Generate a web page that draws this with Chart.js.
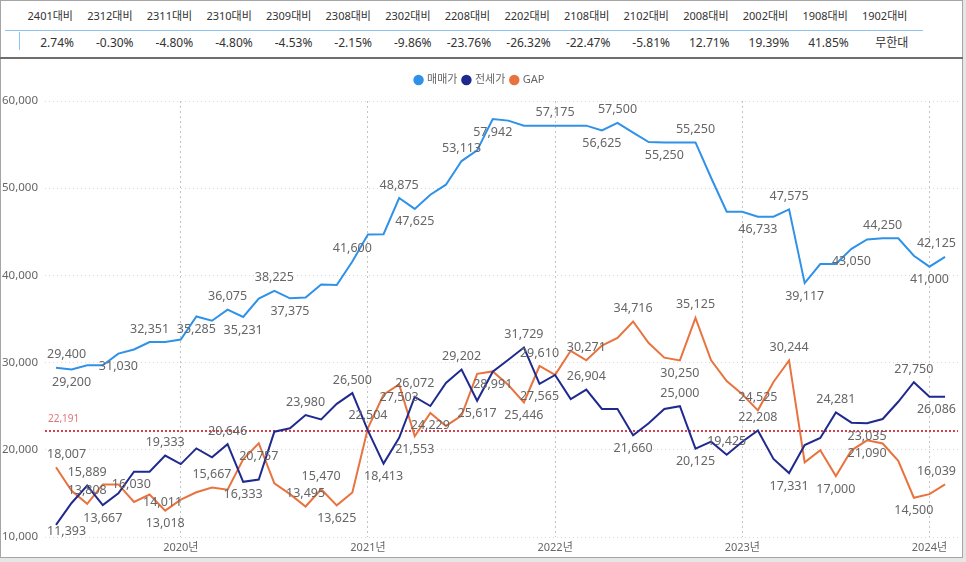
<!DOCTYPE html>
<html><head><meta charset="utf-8">
<script src="https://cdn.jsdelivr.net/npm/chart.js@4.4.1/dist/chart.umd.min.js"></script>
<style>
html,body{margin:0;padding:0;}
body{width:966px;height:562px;background:#e6e6e6;position:relative;overflow:hidden;font-family:"Noto Sans","Noto Sans CJK KR",sans-serif;}
#frame{position:absolute;left:0;top:0;width:961px;height:556px;border:1px solid #a5a5a5;background:#fff;}
#sep{position:absolute;left:0;top:57px;width:963px;height:2px;background:#6e6e6e;}
#tblLine{position:absolute;left:5px;top:30px;width:918px;height:1px;background:#8cc4ee;}
#tblTick{position:absolute;left:19px;top:32px;width:1px;height:18px;background:#8cc4ee;}
.th{position:absolute;top:8px;font-size:11px;line-height:16px;color:#333;text-align:right;width:80px;white-space:nowrap;}
.td{position:absolute;top:35px;font-size:12px;line-height:16px;color:#333;text-align:right;width:80px;white-space:nowrap;}
#c{position:absolute;left:2px;top:60px;}
</style></head><body>
<div id="frame"></div>
<div id="sep"></div>
<div id="tblLine"></div>
<div id="tblTick"></div>
<div id="tbl"></div>
<canvas id="c" width="959" height="496"></canvas>
<script>
const tableHeaders = ['2401대비','2312대비','2311대비','2310대비','2309대비','2308대비','2302대비','2208대비','2202대비','2108대비','2102대비','2008대비','2002대비','1908대비','1902대비'];
const tableValues = ['2.74%','-0.30%','-4.80%','-4.80%','-4.53%','-2.15%','-9.86%','-23.76%','-26.32%','-22.47%','-5.81%','12.71%','19.39%','41.85%','무한대'];

const months = ['2019-05','2019-06','2019-07','2019-08','2019-09','2019-10','2019-11','2019-12',
 '2020-01','2020-02','2020-03','2020-04','2020-05','2020-06','2020-07','2020-08','2020-09','2020-10','2020-11','2020-12',
 '2021-01','2021-02','2021-03','2021-04','2021-05','2021-06','2021-07','2021-08','2021-09','2021-10','2021-11','2021-12',
 '2022-01','2022-02','2022-03','2022-04','2022-05','2022-06','2022-07','2022-08','2022-09','2022-10','2022-11','2022-12',
 '2023-01','2023-02','2023-03','2023-04','2023-05','2023-06','2023-07','2023-08','2023-09','2023-10','2023-11','2023-12',
 '2024-01','2024-02'];

const salePrice = [29400, 29200, 29697, 29697, 31030, 31500, 32351, 32351, 32650, 35285,
 34800, 36075, 35231, 37350, 38225, 37375, 37475, 38950, 38900, 41600,
 44704, 44725, 48875, 47625, 49250, 50400, 53113, 54334, 57942, 57750,
 57175, 57175, 57175, 57175, 57175, 56625, 57500, 56376, 55300, 55250,
 55250, 55250, 51200, 47300, 47300, 46733, 46733, 47575, 39117, 41300,
 41300, 43050, 44124, 44250, 44250, 42252, 41000, 42125];

const jeonsePrice = [11393, 13900, 15889, 13667, 15000, 17489, 17480, 19333, 18360, 20160,
 19133, 20646, 16333, 16593, 22080, 22460, 23980, 23480, 25275, 26500,
 22200, 18413, 21372, 26072, 25021, 27660, 29202, 25617, 28951, 30320,
 31729, 27565, 28580, 25820, 26904, 24680, 24680, 21660, 23050, 24680,
 25000, 20125, 20930, 19425, 20930, 22208, 18950, 17331, 20550, 21350,
 24281, 23110, 23035, 23530, 25510, 27750, 26086, 26086];

const gapValue = [18007, 15300, 13808, 16030, 16030, 14011, 14871, 13018, 14290, 15125,
 15667, 15429, 18898, 20757, 16145, 14915, 13495, 15470, 13625, 15100,
 22504, 26312, 27503, 21553, 24229, 22740, 23911, 28717, 28991, 27430,
 25446, 29610, 28595, 31355, 30271, 31945, 32820, 34716, 32250, 30570,
 30250, 35125, 30270, 27875, 26370, 24525, 27780, 30244, 18567, 19950,
 17000, 19940, 21090, 20720, 18740, 14500, 14914, 16039];

const avgValue = 22191;
const seriesNames = ['매매가','전세가','GAP'];

// which points carry a value label, and where (a = above, b = below, r = right)
const saleLabelPos = {0:'a',1:'b',4:'b',6:'a',9:'b',11:'a',12:'b',14:'a',15:'b',19:'a',22:'a',23:'b',26:'a',28:'b',32:'a',35:'b',36:'a',39:'b',41:'a',45:'b',47:'a',48:'b',51:'b',53:'a',56:'b',57:'a'};
const jeonseLabelPos = {0:'b',2:'a',3:'b',7:'a',11:'a',12:'b',16:'a',19:'a',21:'b',23:'a',26:'a',27:'b',30:'a',31:'b',34:'a',37:'b',40:'a',41:'b',43:'a',45:'a',47:'b',50:'a',52:'b',55:'a',57:'b'};
const gapLabelPos = {0:'a',2:'a',3:'r',5:'r',7:'b',10:'a',13:'b',16:'a',17:'a',18:'b',20:'a',22:'b',23:'b',24:'b',28:'b',30:'b',31:'a',34:'a',37:'a',40:'b',41:'a',45:'a',47:'a',50:'b',52:'b',55:'b',57:'a'};

// table
const tbl = document.getElementById('tbl');
tableHeaders.forEach((h,k)=>{
  const right = 73 + 59.6*k;
  const d1 = document.createElement('div'); d1.className='th'; d1.textContent=h; d1.style.left=(right-80)+'px'; tbl.appendChild(d1);
  const d2 = document.createElement('div'); d2.className='td'; d2.textContent=tableValues[k]; d2.style.left=(right-79)+'px'; tbl.appendChild(d2);
});

const C_SALE='#2f92e8', C_JEONSE='#1f2a8e', C_GAP='#e8733f';
const FONT = '"Noto Sans","Noto Sans CJK KR",sans-serif';
const toXY = arr => arr.map((v,i)=>({x:i,y:v}));
const yearTicks = months.map((m,i)=>m.endsWith('-01')?i:-1).filter(i=>i>=0);

const avgLinePlugin = {
  id:'avgLine',
  beforeDatasetsDraw(chart){
    const {ctx, chartArea:a, scales:{y}} = chart;
    const py = Math.round(y.getPixelForValue(avgValue));
    ctx.save();
    ctx.strokeStyle='#d6404e'; ctx.lineWidth=2; ctx.setLineDash([2,2]);
    ctx.beginPath(); ctx.moveTo(a.left, py); ctx.lineTo(a.right, py); ctx.stroke();
    ctx.setLineDash([]);
    ctx.fillStyle='#e07474'; ctx.font='10px '+FONT; ctx.textAlign='left'; ctx.textBaseline='middle';
    ctx.fillText(avgValue.toLocaleString('en-US'), a.left+3, py-12);
    ctx.restore();
  }
};

const labelPlugin = {
  id:'valueLabels',
  afterDatasetsDraw(chart){
    const {ctx, chartArea:a} = chart;
    const specs = [saleLabelPos, jeonseLabelPos, gapLabelPos];
    ctx.save();
    ctx.font='12.5px '+FONT; ctx.fillStyle='#666'; ctx.textBaseline='middle';
    chart.data.datasets.forEach((ds,di)=>{
      const meta = chart.getDatasetMeta(di);
      Object.entries(specs[di]).forEach(([idx,pos])=>{
        const pt = meta.data[+idx]; if(!pt) return;
        const txt = ds.data[+idx].y.toLocaleString('en-US');
        const w = ctx.measureText(txt).width;
        let x = pt.x, y = pt.y;
        if(pos==='r'){ ctx.textAlign='left'; x = pt.x+9; ctx.fillText(txt,x,y); return; }
        y += pos==='a' ? -13 : 13;
        y = Math.min(y, a.bottom-6);
        x = Math.max(a.left+2+w/2, Math.min(a.right-2-w/2, x));
        ctx.textAlign='center';
        ctx.fillText(txt,x,y);
      });
    });
    ctx.restore();
  }
};

new Chart(document.getElementById('c'), {
  type:'line',
  data:{datasets:[
    {label:seriesNames[0], data:toXY(salePrice), borderColor:C_SALE, backgroundColor:C_SALE, borderWidth:2, pointRadius:0, tension:0},
    {label:seriesNames[1], data:toXY(jeonsePrice), borderColor:C_JEONSE, backgroundColor:C_JEONSE, borderWidth:2, pointRadius:0, tension:0},
    {label:seriesNames[2], data:toXY(gapValue), borderColor:C_GAP, backgroundColor:C_GAP, borderWidth:2, pointRadius:0, tension:0}
  ]},
  options:{
    responsive:false, animation:false, devicePixelRatio:1,
    layout:{padding:{top:8.5, right:3, left:0, bottom:0}},
    plugins:{
      legend:{display:true, position:'top', align:'center', weight:1000,
        labels:{usePointStyle:true, pointStyle:'circle', boxWidth:6, boxHeight:6, padding:6, color:'#666', font:{size:11, family:FONT}}},
      title:{display:true, text:' ', weight:500, padding:{top:0,bottom:4.3}, font:{size:1}},
      tooltip:{enabled:false}
    },
    scales:{
      x:{type:'linear', min:-0.705, max:57.83,
        afterBuildTicks(s){ s.ticks = yearTicks.map(v=>({value:v})); },
        afterFit(s){ s.height = 19; },
        ticks:{padding:4, color:'#666', font:{size:11, family:FONT}, maxRotation:0, autoSkip:false,
          callback:(v)=> months[v] ? months[v].slice(0,4)+'년' : ''},
        grid:{color:'#c4c4c4', drawTicks:false, lineWidth:1},
        border:{display:false, dash:[2,3]}
      },
      y:{min:10000, max:60000,
        afterFit(s){ s.width = 43; },
        ticks:{stepSize:10000, padding:0, crossAlign:'far', color:'#666', font:{size:11.5, family:FONT},
          callback:(v)=>v.toLocaleString('en-US')},
        grid:{color:'#d8d8d8', drawTicks:false, lineWidth:1},
        border:{display:false, dash:[1,3]}
      }
    }
  },
  plugins:[avgLinePlugin, labelPlugin]
});
</script>
</body></html>
